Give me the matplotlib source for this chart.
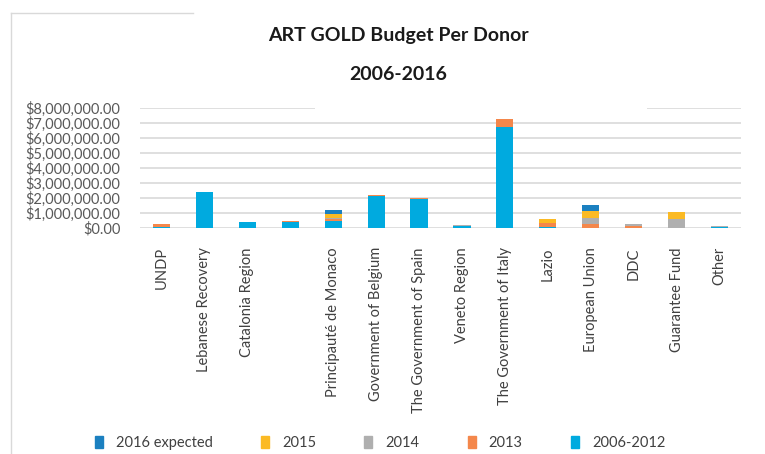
import numpy as np
import matplotlib
matplotlib.use('Agg')
import matplotlib.pyplot as plt
from matplotlib.ticker import StrMethodFormatter
from matplotlib.patches import Rectangle, Patch
from matplotlib.lines import Line2D

plt.rcParams['font.family'] = ['Lato', 'DejaVu Sans']

donors = ['UNDP', 'Lebanese Recovery', 'Catalonia Region', '', 'Principauté de Monaco',
          'Government of Belgium', 'The Government of Spain', 'Veneto Region',
          'The Government of Italy', 'Lazio', 'European Union', 'DDC', 'Guarantee Fund', 'Other']

# values in dollars
y2006_2012 = np.array([0.08, 2.38, 0.38, 0.40, 0.45, 2.11, 1.93, 0.09, 6.78, 0.07, 0.00, 0.00, 0.00, 0.07]) * 1e6
y2013      = np.array([0.15, 0.00, 0.00, 0.04, 0.12, 0.07, 0.04, 0.00, 0.47, 0.25, 0.27, 0.13, 0.00, 0.00]) * 1e6
y2014      = np.array([0.02, 0.00, 0.00, 0.00, 0.05, 0.00, 0.00, 0.06, 0.00, 0.00, 0.36, 0.11, 0.58, 0.04]) * 1e6
y2015      = np.array([0.00, 0.00, 0.00, 0.00, 0.30, 0.00, 0.00, 0.00, 0.00, 0.25, 0.49, 0.00, 0.44, 0.00]) * 1e6
y2016_exp  = np.array([0.00, 0.00, 0.00, 0.00, 0.27, 0.00, 0.00, 0.00, 0.00, 0.00, 0.40, 0.00, 0.00, 0.00]) * 1e6

series = [('2006-2012', y2006_2012, '#00AADF'),
          ('2013', y2013, '#F4874B'),
          ('2014', y2014, '#AFAFAF'),
          ('2015', y2015, '#FBBA24'),
          ('2016 expected', y2016_exp, '#1B80C0')]

fig = plt.figure(figsize=(7.65, 4.54), dpi=100)
ax = fig.add_axes([140/765, 1-227.7/454, 601/765, (227.7-108.3)/454])

x = np.arange(len(donors))
bottom = np.zeros(len(donors))
for name, vals, col in series:
    ax.bar(x, vals, 0.4, bottom=bottom, color=col, zorder=3)
    bottom += vals

ax.set_xlim(-0.5, len(donors)-0.5)
ax.set_ylim(0, 8e6)
ax.set_yticks(np.arange(0, 8.1e6, 1e6))
ax.yaxis.set_major_formatter(StrMethodFormatter('${x:,.2f}'))
ax.grid(axis='y', color='#d9d9d9', lw=1.2, zorder=0)
for s in ax.spines.values():
    s.set_visible(False)
ax.tick_params(length=0)
ax.tick_params(axis='y', labelsize=10.5, labelcolor='#595959', pad=14)
ax.set_xticks(x)
ax.set_xticklabels(donors, rotation=90, fontsize=10.5, color='#404040')
ax.tick_params(axis='x', pad=14)

# gap in the top gridline behind the title area
fig.patches.append(Rectangle((315/765, 1-112/454), 332/765, 8/454, transform=fig.transFigure,
                             facecolor='white', edgecolor='none', zorder=5))

fig.text(398/765, 1-35/454, 'ART GOLD Budget Per Donor', ha='center', va='center',
         fontsize=14, fontweight='bold', color='#1a1a1a')
fig.text(398/765, 1-75/454, '2006-2016', ha='center', va='center',
         fontsize=14, fontweight='bold', color='#1a1a1a')

# chart frame (partial)
fig.add_artist(Line2D([11/765, 11/765], [0, 1-12.7/454], transform=fig.transFigure, color='#d9d9d9', lw=1))
fig.add_artist(Line2D([11/765, 193/765], [1-12.7/454, 1-12.7/454], transform=fig.transFigure, color='#d9d9d9', lw=1))

handles = [Patch(color=c) for _, _, c in series][::-1]
labels = [n for n, _, _ in series][::-1]
fig.legend(handles, labels, loc='center', bbox_to_anchor=(380/765, 1-443/454), ncol=5,
           frameon=False, fontsize=10.5, handlelength=0.55, handleheight=0.9,
           columnspacing=3.3, handletextpad=0.9, labelcolor='#404040')

plt.savefig('out.png', dpi=100)
plt.close()
